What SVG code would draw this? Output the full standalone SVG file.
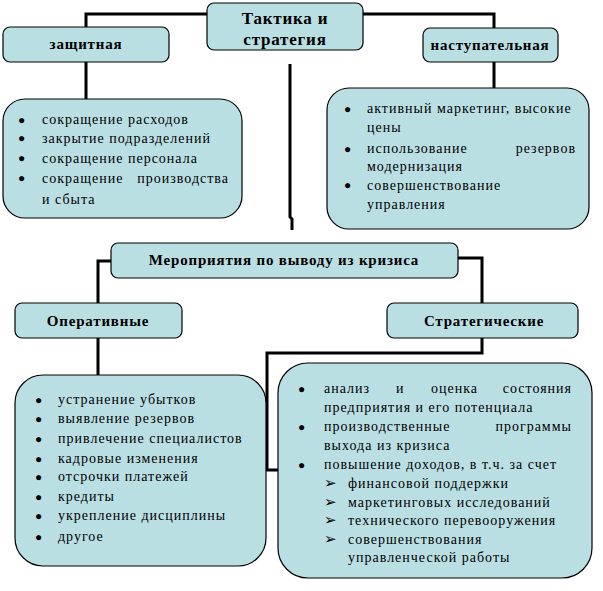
<svg xmlns="http://www.w3.org/2000/svg" width="603" height="591" viewBox="0 0 603 591">
<style>
.box{fill:#badfe3;stroke:#000;stroke-width:1.2}
.con{fill:none;stroke:#000;stroke-width:3}
.h{font-family:"Liberation Serif","Times New Roman",serif;font-weight:bold;font-size:15px;letter-spacing:0.8px;text-anchor:middle;fill:#000}
.big{font-size:17px;letter-spacing:0.8px}
.t{font-family:"Liberation Serif","Times New Roman",serif;font-size:14px;letter-spacing:1px;fill:#000}
.e{text-anchor:end}
.b{font-family:"Liberation Serif",serif;font-size:12px;fill:#000}
.a{font-family:"DejaVu Sans",sans-serif;font-size:15px;fill:#000}
</style>
<rect width="603" height="591" fill="#fff"/>
<g id="connectors">
<polyline class="con" points="207,14 86,14 86,27"/>
<polyline class="con" points="86,62 86,99"/>
<polyline class="con" points="363,14 494,14 494,28"/>
<polyline class="con" points="494,62 494,88"/>
<polyline class="con" points="290,64 290,217 292,219 292,230"/>
<polyline class="con" points="111,261 98,261 98,303"/>
<polyline class="con" points="98,338 98,375"/>
<polyline class="con" points="458,258 482,258 482,303"/>
<polyline class="con" points="482,338 482,353 267,353 267,470 280,470"/>
</g>
<g id="n-top">
<rect class="box" x="207" y="3" width="156" height="47" rx="7"/>
<text class="h big" x="285" y="24">Тактика и</text>
<text class="h big" x="285" y="45">стратегия</text>
</g>
<g id="n-def">
<rect class="box" x="3" y="27" width="166" height="35" rx="7"/>
<text class="h" x="86" y="49">защитная</text>
</g>
<g id="n-off">
<rect class="box" x="423" y="28" width="135" height="34" rx="7"/>
<text class="h" x="490" y="50">наступательная</text>
</g>
<g id="n-def-list">
<rect class="box" x="3" y="99" width="239" height="119" rx="22"/>
<g class="b"><text x="18" y="124">●</text><text x="18" y="142">●</text><text x="18" y="162">●</text><text x="18" y="182">●</text></g>
<text class="t" x="42" y="124">сокращение расходов</text>
<text class="t" x="42" y="143">закрытие подразделений</text>
<text class="t" x="42" y="163">сокращение персонала</text>
<text class="t" x="42" y="183">сокращение</text>
<text class="t e" x="229" y="183">производства</text>
<text class="t" x="42" y="204">и сбыта</text>
</g>
<g id="n-off-list">
<rect class="box" x="327" y="88" width="262" height="141" rx="22"/>
<g class="b"><text x="344" y="113">●</text><text x="344" y="153">●</text><text x="344" y="189">●</text></g>
<text class="t" x="367" y="113">активный маркетинг, высокие</text>
<text class="t" x="367" y="132">цены</text>
<text class="t" x="367" y="153">использование</text>
<text class="t e" x="576" y="153">резервов</text>
<text class="t" x="367" y="171">модернизация</text>
<text class="t" x="367" y="190">совершенствование</text>
<text class="t" x="367" y="209">управления</text>
</g>
<g id="n-measures">
<rect class="box" x="111" y="243" width="347" height="35" rx="7"/>
<text class="h" x="284" y="265">Мероприятия по выводу из кризиса</text>
</g>
<g id="n-oper">
<rect class="box" x="15" y="303" width="167" height="35" rx="7"/>
<text class="h" x="98" y="326">Оперативные</text>
</g>
<g id="n-strat">
<rect class="box" x="387" y="303" width="191" height="35" rx="7"/>
<text class="h" x="484" y="326">Стратегические</text>
</g>
<g id="n-oper-list">
<rect class="box" x="15" y="375" width="251" height="191" rx="28"/>
<g class="b"><text x="35" y="404">●</text><text x="35" y="423">●</text><text x="35" y="443">●</text><text x="35" y="463">●</text><text x="35" y="481">●</text><text x="35" y="501">●</text><text x="35" y="520">●</text><text x="35" y="541">●</text></g>
<text class="t" x="58" y="404">устранение убытков</text>
<text class="t" x="58" y="423">выявление резервов</text>
<text class="t" x="58" y="443">привлечение специалистов</text>
<text class="t" x="58" y="463">кадровые изменения</text>
<text class="t" x="58" y="481">отсрочки платежей</text>
<text class="t" x="58" y="501">кредиты</text>
<text class="t" x="58" y="520">укрепление дисциплины</text>
<text class="t" x="58" y="541">другое</text>
</g>
<g id="n-strat-list">
<rect class="box" x="278" y="363" width="314" height="215" rx="30"/>
<g class="b"><text x="298" y="393">●</text><text x="298" y="431">●</text><text x="298" y="469">●</text></g>
<text class="t" x="324" y="393">анализ</text>
<text class="t" x="396" y="393">и</text>
<text class="t" x="431" y="393">оценка</text>
<text class="t e" x="572" y="393">состояния</text>
<text class="t" x="324" y="412">предприятия и его потенциала</text>
<text class="t" x="324" y="431">производственные</text>
<text class="t e" x="572" y="431">программы</text>
<text class="t" x="324" y="450">выхода из кризиса</text>
<text class="t" x="324" y="469">повышение доходов, в т.ч. за счет</text>
<g class="a"><text x="324" y="488">➢</text><text x="324" y="507">➢</text><text x="324" y="525">➢</text><text x="324" y="544">➢</text></g>
<text class="t" x="348" y="488">финансовой поддержки</text>
<text class="t" x="348" y="507">маркетинговых исследований</text>
<text class="t" x="348" y="525">технического перевооружения</text>
<text class="t" x="348" y="544">совершенствования</text>
<text class="t" x="348" y="562">управленческой  работы</text>
</g>
</svg>
